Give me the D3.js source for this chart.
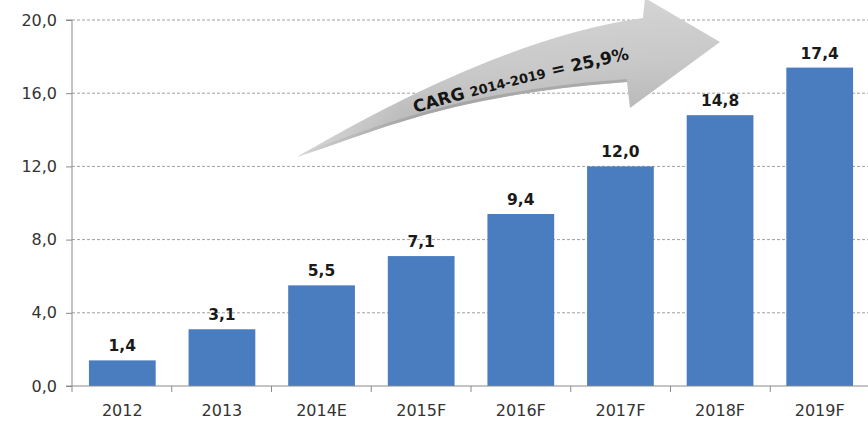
<!DOCTYPE html>
<html>
<head>
<meta charset="utf-8">
<script src="https://cdn.jsdelivr.net/npm/d3@7"></script>
<style>
  html, body { margin: 0; padding: 0; background: #fff; }
  svg { display: block; }
</style>
</head>
<body>
<svg id="chart" width="868" height="423"></svg>
<script>
// Market size by year, with estimate (E) and forecast (F) years
const categories = ["2012", "2013", "2014E", "2015F", "2016F", "2017F", "2018F", "2019F"];
const values = [1.4, 3.1, 5.5, 7.1, 9.4, 12.0, 14.8, 17.4];
const yTicks = [0, 4, 8, 12, 16, 20];

// Growth arrow in chart units: [category index, value]
const arrowTail = [1.756, 12.51];
const arrowUpper = [[3.791, 19.02], [5.224, 20.11]];              // quadratic: control, end
const arrowHead = [[5.244, 21.2], [5.996, 18.80], [5.094, 15.19]];  // barb top, tip, barb bottom
const arrowLower = [[5.064, 16.61], [3.289, 15.90], [2.588, 13.99]]; // start, two cubic controls (ends at tail)
// Baseline for the growth label
const labelPath = [[2.939, 14.92], [3.991, 16.50], [5.194, 17.98]];

const fmt = v => d3.format(".1f")(v).replace(".", ",");

const svg = d3.select("#chart");
const margin = { left: 72, right: -2, top: 20, bottom: 37 };
const W = 868, H = 423;

const x = d3.scaleBand()
  .domain(categories)
  .range([margin.left, W - margin.right])
  .paddingInner(0.33)
  .paddingOuter(0.17);

// continuous position by category index, for annotations
const xi = d3.scaleLinear()
  .domain([-0.5, categories.length - 0.5])
  .range([margin.left, W - margin.right]);

const y = d3.scaleLinear()
  .domain([0, 20])
  .range([H - margin.bottom, margin.top]);

const fontAxis = "'DejaVu Sans', Verdana, sans-serif";

// gridlines
svg.append("g")
  .selectAll("line")
  .data(yTicks.filter(t => t > 0))
  .join("line")
  .attr("x1", margin.left)
  .attr("x2", W)
  .attr("y1", d => y(d))
  .attr("y2", d => y(d))
  .attr("stroke", "#a0a0a0")
  .attr("stroke-width", 1)
  .attr("stroke-dasharray", "3,2");

// growth arrow
const defs = svg.append("defs");
const grad = defs.append("linearGradient")
  .attr("id", "arrowFill")
  .attr("x1", "0").attr("y1", "0")
  .attr("x2", "0.2").attr("y2", "1");
grad.append("stop").attr("offset", "0%").attr("stop-color", "#d9d9d9");
grad.append("stop").attr("offset", "55%").attr("stop-color", "#c8c8c8");
grad.append("stop").attr("offset", "100%").attr("stop-color", "#b0b0b0");

const fade = defs.append("linearGradient")
  .attr("id", "arrowFade")
  .attr("x1", "0").attr("y1", "0")
  .attr("x2", "1").attr("y2", "0");
fade.append("stop").attr("offset", "0%").attr("stop-color", "#fff").attr("stop-opacity", 0.5);
fade.append("stop").attr("offset", "25%").attr("stop-color", "#fff").attr("stop-opacity", 0);

const rim = defs.append("linearGradient")
  .attr("id", "arrowRim")
  .attr("x1", "0").attr("y1", "0")
  .attr("x2", "1").attr("y2", "0");
rim.append("stop").attr("offset", "0%").attr("stop-color", "#9c9c9c").attr("stop-opacity", 0);
rim.append("stop").attr("offset", "40%").attr("stop-color", "#9c9c9c").attr("stop-opacity", 0.75);
rim.append("stop").attr("offset", "100%").attr("stop-color", "#9c9c9c").attr("stop-opacity", 0.6);

const soft = defs.append("filter").attr("id", "soft")
  .attr("x", "-5%").attr("y", "-10%").attr("width", "110%").attr("height", "120%");
soft.append("feGaussianBlur").attr("stdDeviation", 0.7);

const toPx = p => [xi(p[0]), y(p[1])];
const P = p => toPx(p).join(",");
const tail = P(arrowTail);
const arrowD =
  `M${tail}Q${P(arrowUpper[0])} ${P(arrowUpper[1])}` +
  arrowHead.map(p => `L${P(p)}`).join("") +
  `L${P(arrowLower[0])}C${P(arrowLower[1])} ${P(arrowLower[2])} ${tail}Z`;
const underside = `M${P(arrowLower[0])}C${P(arrowLower[1])} ${P(arrowLower[2])} ${tail}`;

const arrowG = svg.append("g").attr("filter", "url(#soft)");
arrowG.append("path").attr("d", arrowD).attr("fill", "url(#arrowFill)");
arrowG.append("path").attr("d", arrowD).attr("fill", "url(#arrowFade)");
// darker rim along the underside of the shaft
arrowG.append("path")
  .attr("d", underside)
  .attr("fill", "none")
  .attr("stroke", "url(#arrowRim)")
  .attr("stroke-width", 3)
  .attr("transform", "translate(0,-1.5)");

// label along the arrow
defs.append("path")
  .attr("id", "labelCurve")
  .attr("d", d3.line().curve(d3.curveNatural)(labelPath.map(toPx)));

const lbl = svg.append("text")
  .attr("font-family", "'DejaVu Sans', Verdana, sans-serif")
  .attr("font-weight", "bold")
  .attr("fill", "#151515")
  .append("textPath")
  .attr("href", "#labelCurve");
lbl.append("tspan").attr("font-size", 17).text("CARG ");
lbl.append("tspan").attr("font-size", 13).text("2014-2019");
lbl.append("tspan").attr("font-size", 17).text(" = 25,9%");

// bars
svg.append("g")
  .selectAll("rect")
  .data(values)
  .join("rect")
  .attr("x", (d, i) => x(categories[i]))
  .attr("width", x.bandwidth())
  .attr("y", d => y(d))
  .attr("height", d => y(0) - y(d))
  .attr("fill", "#4a7dc0");

// value labels
svg.append("g")
  .selectAll("text")
  .data(values)
  .join("text")
  .attr("x", (d, i) => x(categories[i]) + x.bandwidth() / 2)
  .attr("y", d => y(d) - 9)
  .attr("text-anchor", "middle")
  .attr("font-family", fontAxis)
  .attr("font-weight", "bold")
  .attr("font-size", 15.5)
  .attr("fill", "#1a1a1a")
  .text(d => fmt(d));

// y axis
const yAxis = d3.axisLeft(y)
  .tickValues(yTicks)
  .tickSize(6)
  .tickPadding(9)
  .tickFormat(fmt);
const gy = svg.append("g")
  .attr("transform", `translate(${margin.left},0)`)
  .call(yAxis);
gy.select(".domain").attr("stroke", "#8a8a8a").attr("d", `M-6,${y(20)}H0V${y(0)}H-6`);
gy.selectAll(".tick line").attr("stroke", "#8a8a8a");
gy.selectAll(".tick text")
  .attr("font-family", fontAxis)
  .attr("font-size", 16)
  .attr("fill", "#333");

// x axis: line with ticks at category boundaries
const gx = svg.append("g").attr("transform", `translate(0,${y(0)})`);
gx.append("line")
  .attr("x1", margin.left).attr("x2", W)
  .attr("stroke", "#8a8a8a");
gx.selectAll("line.bound")
  .data(d3.range(categories.length + 1))
  .join("line")
  .attr("class", "bound")
  .attr("x1", i => xi(i - 0.5)).attr("x2", i => xi(i - 0.5))
  .attr("y1", 0).attr("y2", 6)
  .attr("stroke", "#8a8a8a");
gx.selectAll("text")
  .data(categories)
  .join("text")
  .attr("x", d => x(d) + x.bandwidth() / 2)
  .attr("y", 30)
  .attr("text-anchor", "middle")
  .attr("font-family", fontAxis)
  .attr("font-size", 16)
  .attr("fill", "#333")
  .text(d => d);
</script>
</body>
</html>
